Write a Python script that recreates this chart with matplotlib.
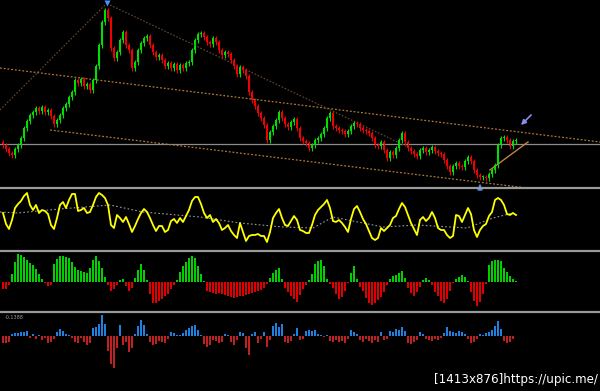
import numpy as np
import matplotlib
matplotlib.use("Agg")
import matplotlib.pyplot as plt
from matplotlib.lines import Line2D

# ---------------- data ----------------
# closing prices (one candle per bar)
closes = [55, 51, 47, 45, 51, 55, 62, 72, 79, 85,
          88, 92, 89, 93, 88, 90, 84, 76, 80, 85,
          92, 96, 103, 108, 120, 117, 121, 114, 116, 110,
          120, 134, 155, 178, 190, 182, 152, 142, 148, 160,
          168, 155, 150, 132, 138, 150, 157, 162, 164, 155,
          148, 143, 145, 140, 134, 137, 132, 136, 130, 135,
          132, 137, 138, 150, 160, 166, 167, 163, 158, 156,
          162, 158, 150, 145, 148, 146, 140, 134, 126, 133,
          130, 124, 108, 100, 94, 87, 82, 75, 60, 68,
          74, 80, 88, 82, 76, 73, 78, 81, 72, 62,
          59, 57, 52, 55, 60, 62, 66, 72, 82, 87,
          74, 72, 70, 69, 66, 69, 74, 77, 76, 72,
          70, 69, 67, 62, 55, 54, 58, 50, 42, 48,
          45, 52, 60, 67, 58, 52, 49, 46, 44, 50,
          52, 48, 50, 53, 49, 47, 46, 40, 34, 28,
          34, 37, 34, 33, 39, 43, 39, 30, 25, 23,
          23, 22, 26, 30, 35, 55, 62, 63, 60, 54,
          59, 60]
wick = 2.5

# oscillator (yellow) and its slow signal
osc = [37, 26, 21, 30, 42, 46, 49, 54, 57, 45,
       40, 45, 37, 40, 39, 36, 25, 21, 32, 45,
       48, 42, 50, 56, 56, 39, 40, 42, 37, 38,
       45, 53, 57, 55, 52, 45, 25, 22, 35, 32,
       28, 33, 26, 18, 24, 31, 37, 41, 38, 32,
       25, 19, 24, 24, 18, 20, 29, 31, 27, 32,
       28, 34, 40, 49, 53, 53, 46, 37, 32, 35,
       28, 31, 27, 20, 22, 25, 19, 15, 12, 27,
       18, 9, 14, 15, 15, 16, 14, 14, 8, 18,
       32, 37, 41, 32, 25, 24, 29, 34, 30, 20,
       19, 17, 17, 25, 35, 40, 43, 46, 50, 42,
       29, 28, 30, 27, 23, 18, 31, 41, 44, 38,
       31, 26, 19, 12, 10, 12, 22, 19, 22, 25,
       32, 34, 41, 47, 43, 35, 27, 21, 15, 30,
       33, 29, 32, 38, 32, 22, 20, 20, 15, 12,
       14, 35, 34, 28, 35, 42, 36, 20, 13, 20,
       24, 26, 34, 38, 50, 52, 50, 45, 36, 35,
       37, 35]
sig_px = [0, 17, 60, 110, 143, 200, 240, 283, 313, 333, 383, 417, 467, 493, 513]
sig_val = [38, 37, 41, 45, 38, 33, 27, 23, 22, 33, 23, 25, 22, 32, 37]

# histogram oscillator (green / red)
hist = [-7, -7, -3, 8, 20, 28, 27, 25, 22, 19,
        17, 13, 8, 3, -1, -4, -3, 18, 23, 26,
        26, 25, 24, 20, 15, 12, 11, 10, 9, 14,
        22, 26, 21, 14, 5, -3, -9, -7, -3, 2,
        3, -4, -9, -6, 4, 12, 18, 12, 2, -12,
        -21, -21, -19, -17, -14, -12, -7, -3, 2, 10,
        16, 20, 24, 26, 24, 16, 8, 1, -9, -10,
        -11, -12, -11, -12, -13, -14, -15, -16, -15, -14,
        -14, -13, -12, -11, -10, -9, -8, -6, -2, 4,
        9, 12, 14, 3, -6, -10, -14, -17, -20, -13,
        -7, -3, 2, 8, 18, 21, 22, 16, 3, -2,
        -6, -12, -17, -15, -9, -1, 9, 16, 3, -5,
        -9, -16, -21, -23, -21, -18, -15, -10, -3, 3,
        6, 7, 9, 11, 4, -6, -11, -14, -10, -5,
        2, 4, 2, -3, -10, -14, -19, -21, -17, -9,
        -1, 3, 5, 7, 5, 1, -10, -19, -24, -20,
        -12, -2, 17, 21, 22, 22, 21, 14, 10, 6,
        3, 1]

# lower panel flow bars (blue / red)
flow = [-7, -7, -6, 2, 3, 3, 4, 4, 5, -2,
        2, -3, 1, -4, -2, -7, -6, -3, 4, 7,
        5, 2, 1, -2, -6, -7, -2, -6, -9, -7,
        8, 9, 12, 21, 12, -15, -28, -32, -12, 11,
        -9, -6, -16, -12, 2, 10, 16, 11, 2, -6,
        -9, -8, -5, -6, -7, -3, 4, 3, 1, 1,
        3, 6, 8, 10, 11, 6, 1, -8, -11, -9,
        -4, -5, -7, -6, 2, 1, -6, -9, -4, 4,
        3, -12, -19, 2, 4, -7, -3, 4, -11, -4,
        10, 13, 9, 12, -6, -7, -5, 2, 8, -4,
        -3, 5, 6, 5, 6, 2, 1, -1, 1, -5,
        -6, -4, -6, -5, -7, -3, 6, 4, 2, -4,
        -6, -3, -5, -7, -4, -6, 4, -4, -3, 5,
        4, 7, 6, 9, 5, -7, -8, -6, -4, 4,
        2, -3, -4, -5, -3, -4, -2, 3, 9, 5,
        4, 3, 5, 4, 2, -3, -7, -6, -3, 2,
        1, 3, 4, 6, 10, 15, 7, -5, -7, -6,
        -3, 0]

# trend lines (bar index, price)
upper_channel = ([-1, 199], [132, 58])
lower_channel = ([15.7, 174.7], [70, 12])
support_level = 56
rise_line = ([-1, 34], [90, 195])
fall_line = ([35.7, 135.7], [195, 52])
short_line = ([162.3, 175], [30, 58])
peak_idx, peak_price = 34.7, 197
low_idx, low_price = 159, 17
arrow_tip = (172, 73)
arrow_tail = (176.7, 87)

# ---------------- figure ----------------
W, H = 600, 391
fig = plt.figure(figsize=(W / 100, H / 100), dpi=100, facecolor="black")

def panel(top, bottom):
    ax = fig.add_axes([0, 1 - bottom / H, 1, (bottom - top) / H])
    ax.set_facecolor("black")
    ax.set_xlim(-1, 199)
    ax.axis("off")
    return ax

ax1 = panel(0, 187)
ax2 = panel(190, 250)
ax3 = panel(252, 310)
ax4 = panel(313, 391)

# separators
for y in (188, 250.5, 311.5):
    fig.add_artist(Line2D([0, 1], [1 - y / H, 1 - y / H], color="#9a9a9a", lw=1.6,
                          transform=fig.transFigure))

# main price panel
ax1.set_ylim(13, 200)
ax1.axhline(support_level, color="#8c8c8c", lw=0.9)
ax1.plot(*upper_channel, color="#b07838", lw=0.9, ls=(0, (1.5, 1.5)))
ax1.plot(*lower_channel, color="#b07838", lw=0.9, ls=(0, (1.5, 1.5)))
ax1.plot(*rise_line, color="#6a4a30", lw=0.8, ls=(0, (1.5, 1.5)))
ax1.plot(*fall_line, color="#6a4a30", lw=0.8, ls=(0, (1.5, 1.5)))
ax1.plot(*short_line, color="#c8823c", lw=1.0)

c = np.array(closes, dtype=float)
o = np.concatenate([[c[0] + 3], c[:-1]])
idx = np.arange(len(c))
hi = np.maximum(o, c) + wick
lo = np.minimum(o, c) - wick
up = c >= o
cols = np.where(up, "#00e000", "#f00000")
ax1.vlines(idx, lo, hi, colors=cols, lw=0.8)
ax1.bar(idx, np.maximum(np.abs(c - o), 0.6), bottom=np.minimum(o, c), width=0.6,
        color=cols, edgecolor="none")

ax1.plot([peak_idx], [peak_price], marker="v", color="#4a90ff", ms=5, mec="none")
ax1.annotate("", xy=(low_idx, low_price - 1), xytext=(low_idx, low_price - 6),
             arrowprops=dict(arrowstyle="-|>", color="#4a90ff", lw=1.5, mutation_scale=6))
ax1.annotate("", xy=arrow_tip, xytext=arrow_tail,
             arrowprops=dict(arrowstyle="-|>", color="#8c8cf0", lw=1.2, mutation_scale=7))

# oscillator panel
ax2.set_ylim(0, 60)
ax2.plot(np.array(sig_px) / 3 - 1, sig_val, color="#9a9a9a", lw=0.8, ls=(0, (1.5, 2)))
ax2.plot(np.arange(len(osc)), osc, color="#ffff00", lw=1.3)

# histogram panel
ax3.set_ylim(-28, 30)
h = np.array(hist, dtype=float)
ax3.bar(np.arange(len(h)), h, width=0.85, color=np.where(h >= 0, "#00d000", "#e00000"),
        edgecolor="none")

# lower flow panel
ax4.set_ylim(-55, 23)
f = np.array(flow, dtype=float)
ax4.bar(np.arange(len(f)), f, width=0.75, color=np.where(f >= 0, "#2080e0", "#c02020"),
        edgecolor="none")
ax4.text(0.5, 21, "-0.1388", color="#9a9a9a", fontsize=3.5, va="top", ha="left")

fig.text(598 / W, 1 - 379 / H, "[1413x876]https://upic.me/", color="white",
         fontsize=8.6, family="DejaVu Sans", ha="right", va="center")

fig.savefig("out.png", dpi=100, facecolor="black")
